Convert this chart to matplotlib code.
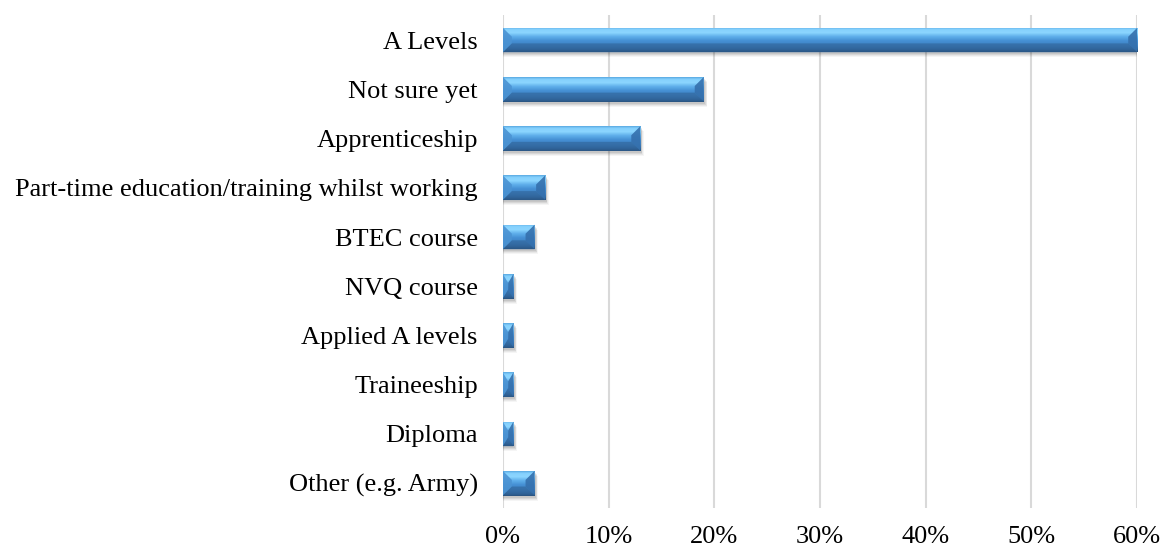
import numpy as np
import matplotlib.pyplot as plt
from matplotlib.patches import Rectangle, Polygon
from matplotlib.colors import LinearSegmentedColormap

# Data (percent of respondents), top to bottom as in the chart
categories = ['A Levels', 'Not sure yet', 'Apprenticeship',
              'Part-time education/training whilst working', 'BTEC course',
              'NVQ course', 'Applied A levels', 'Traineeship', 'Diploma',
              'Other (e.g. Army)']
values = [60, 19, 13, 4, 3, 1, 1, 1, 1, 3]
xticks = [0, 10, 20, 30, 40, 50, 60]

plt.rcParams['font.family'] = ['Liberation Serif', 'DejaVu Serif']

fig = plt.figure(figsize=(11.64, 5.52), dpi=100)
ax = fig.add_axes([0.432, 0.080, 0.545, 0.892])

n = len(categories)
ypos = np.arange(n)[::-1]
h = 0.50

# vertical gradient for the bevelled bar look (top -> bottom)
grad = LinearSegmentedColormap.from_list('bar', [
    (0.00, '#5aaae2'), (0.08, '#84d0fd'), (0.22, '#8cd6ff'),
    (0.38, '#5eaeea'), (0.55, '#4590d4'), (0.75, '#3f82c2'),
    (0.88, '#356fa8'), (1.00, '#284f78')])
g = np.linspace(0, 1, 64).reshape(-1, 1)

px_x = 10.56          # pixels per 1 %
px_y = 49.3           # pixels per slot
bx = 9 / px_x
by = 9 / px_y

for y, v in zip(ypos, values):
    top, bot = y + h / 2, y - h / 2
    # soft shadow
    for k, a in [(5, 0.04), (4, 0.05), (3, 0.07), (2, 0.08)]:
        ax.add_patch(Rectangle((0, bot - k / px_y), v + k * 0.7 / px_x, h,
                               facecolor='black', alpha=a, lw=0, zorder=2))
    rect = Rectangle((0, bot), v, h, facecolor='none', lw=0, zorder=3)
    ax.add_patch(rect)
    im = ax.imshow(g, cmap=grad, aspect='auto', extent=(0, v, bot, top),
                   origin='upper', zorder=3, interpolation='bilinear')
    im.set_clip_path(rect)
    b = min(bx, v / 2)
    # right bevel face (darker)
    ax.add_patch(Polygon([(v, top), (v - b, top - by), (v - b, bot + by), (v, bot)],
                         closed=True, facecolor='#3570ad', alpha=0.9, lw=0, zorder=4))
    # left bevel face (mid blue)
    ax.add_patch(Polygon([(0, top), (b, top - by), (b, bot + by), (0, bot)],
                         closed=True, facecolor='#4b93d3', alpha=0.9, lw=0, zorder=4))
    # bottom face shading over the end faces
    ax.add_patch(Polygon([(0, bot), (b, bot + by), (v - b, bot + by), (v, bot)],
                         closed=True, facecolor='#2e5f93', alpha=0.55, lw=0, zorder=4))

ax.set_xlim(0, 60)
ax.set_ylim(-0.5, n - 0.5)
ax.set_yticks(ypos)
ax.set_yticklabels(categories)
ax.set_xticks(xticks)
ax.set_xticklabels([f'{t}%' for t in xticks])
ax.tick_params(axis='both', length=0, labelsize=19, colors='black')
ax.tick_params(axis='y', pad=18)
ax.tick_params(axis='x', pad=13)
ax.grid(axis='x', color='#d9d9d9', linewidth=1.5, zorder=0)
ax.set_axisbelow(True)
for s in ax.spines.values():
    s.set_visible(False)

fig.savefig('out.png', dpi=100)
